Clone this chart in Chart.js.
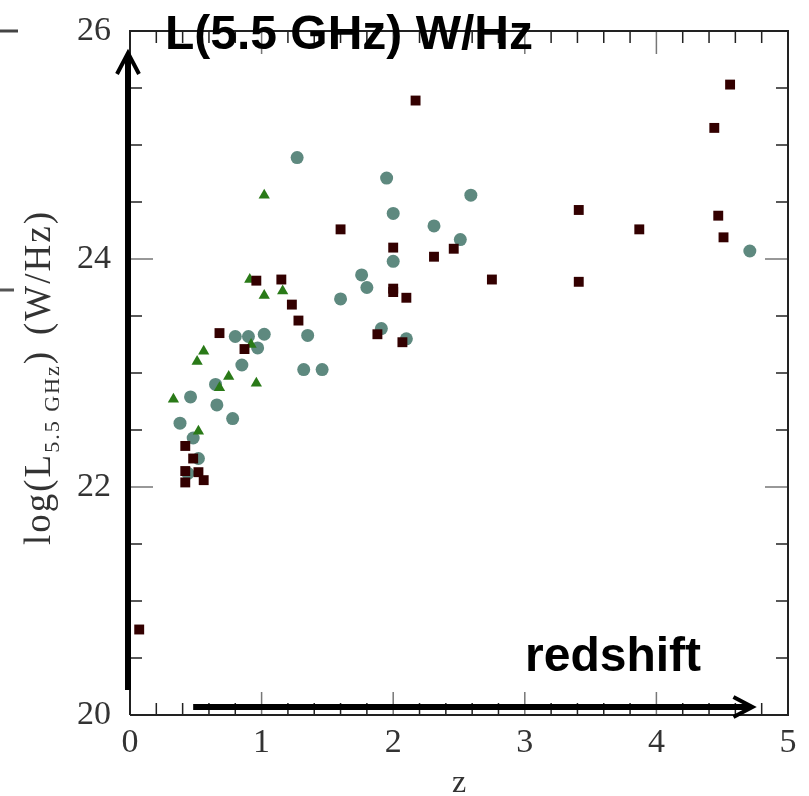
<!DOCTYPE html>
<html>
<head>
<meta charset="utf-8">
<script src="https://cdn.jsdelivr.net/npm/chart.js@4.4.1/dist/chart.umd.min.js"></script>
<style>
  html, body { margin: 0; padding: 0; background: #fff; }
  #wrap { width: 809px; height: 796px; position: relative; }
</style>
</head>
<body>
<div id="wrap"><canvas id="lumChart" width="809" height="796"></canvas></div>
<script>
// redshift / log luminosity
var squareZ = [0.07, 0.42, 0.48, 0.42, 0.52, 0.42, 0.56, 0.68, 0.87, 0.96, 1.15, 1.23, 1.28, 1.60, 1.88, 2.00, 2.00, 2.00, 2.10, 2.07, 2.31, 2.46, 2.75, 2.17, 3.41, 3.41, 3.87, 4.44, 4.56, 4.47, 4.51];
var squareL = [20.75, 22.36, 22.25, 22.14, 22.13, 22.04, 22.06, 23.35, 23.21, 23.81, 23.82, 23.60, 23.46, 24.26, 23.34, 24.10, 23.74, 23.71, 23.66, 23.27, 24.02, 24.09, 23.82, 25.39, 24.43, 23.80, 24.26, 25.15, 25.53, 24.38, 24.19];

var triangleZ = [0.33, 0.51, 0.56, 0.52, 0.68, 0.75, 0.91, 0.92, 0.96, 1.02, 1.02, 1.16];
var triangleL = [22.77, 23.10, 23.19, 22.49, 22.87, 22.97, 23.82, 23.25, 22.91, 23.68, 24.56, 23.72];

var circleZ = [1.27, 0.46, 0.38, 0.48, 0.52, 0.44, 0.65, 0.66, 0.78, 0.80, 0.90, 1.02, 0.97, 0.85, 1.35, 1.32, 1.46, 1.60, 1.95, 2.59, 2.00, 2.31, 2.51, 2.00, 1.76, 1.80, 1.91, 2.10, 4.71];
var circleL = [24.89, 22.79, 22.56, 22.43, 22.25, 22.12, 22.90, 22.72, 22.60, 23.32, 23.32, 23.34, 23.22, 23.07, 23.33, 23.03, 23.03, 23.65, 24.71, 24.56, 24.40, 24.29, 24.17, 23.98, 23.86, 23.75, 23.39, 23.30, 24.07];

var xTicks = [0, 1, 2, 3, 4, 5];
var yTicks = [20, 22, 24, 26];

function toPoints(xs, ys) {
    return xs.map(function(x, i) { return { x: x, y: ys[i] }; });
}

var serif = '"Liberation Serif", "DejaVu Serif", serif';
var sans = '"Liberation Sans", Arial, sans-serif';

var overlay = {
    id: 'overlay',
    afterDraw: function(chart) {
        var ctx = chart.ctx, a = chart.chartArea;
        var xs = chart.scales.x, ys = chart.scales.y;
        ctx.save();

        // inward ticks on all four sides
        ctx.lineWidth = 1.5;
        for (var i = 0; i <= 25; i++) {
            var px = xs.getPixelForValue(i / 5);
            var major = (i % 5 === 0);
            var len = major ? 23 : 12;
            ctx.strokeStyle = major ? '#777' : '#222';
            ctx.beginPath();
            ctx.moveTo(px, a.bottom); ctx.lineTo(px, a.bottom - len);
            ctx.moveTo(px, a.top); ctx.lineTo(px, a.top + len);
            ctx.stroke();
        }
        for (var j = 0; j <= 12; j++) {
            var py = ys.getPixelForValue(20 + j * 0.5);
            var majorY = (j % 4 === 0);
            var lenY = majorY ? 23 : 12;
            ctx.strokeStyle = majorY ? '#777' : '#222';
            ctx.beginPath();
            ctx.moveTo(a.left, py); ctx.lineTo(a.left + lenY, py);
            ctx.moveTo(a.right, py); ctx.lineTo(a.right - lenY, py);
            ctx.stroke();
        }

        // frame
        ctx.strokeStyle = '#222';
        ctx.lineWidth = 2;
        ctx.beginPath();
        ctx.moveTo(a.left, a.bottom); ctx.lineTo(a.left, a.top);
        ctx.lineTo(a.right, a.top);
        ctx.lineTo(a.right, a.bottom); ctx.lineTo(a.left, a.bottom);
        ctx.stroke();

        // stray marks at the left edge
        ctx.lineWidth = 3;
        ctx.strokeStyle = '#444';
        ctx.beginPath(); ctx.moveTo(0, a.top); ctx.lineTo(18, a.top); ctx.stroke();
        ctx.strokeStyle = '#555';
        ctx.beginPath(); ctx.moveTo(0, 290); ctx.lineTo(14, 290); ctx.stroke();

        // vertical arrow
        ctx.strokeStyle = '#000';
        ctx.lineWidth = 6;
        var ax = a.left - 2;
        ctx.beginPath(); ctx.moveTo(ax, 690); ctx.lineTo(ax, 56); ctx.stroke();
        ctx.lineWidth = 4;
        ctx.lineJoin = 'miter';
        ctx.beginPath();
        ctx.moveTo(ax - 11, 74); ctx.lineTo(ax, 53); ctx.lineTo(ax + 11, 74);
        ctx.stroke();

        // horizontal arrow
        var hy = a.bottom - 8;
        var x0 = xs.getPixelForValue(0.48), x1 = xs.getPixelForValue(4.73);
        ctx.lineWidth = 6;
        ctx.beginPath(); ctx.moveTo(x0, hy); ctx.lineTo(x1 - 3, hy); ctx.stroke();
        ctx.lineWidth = 4;
        ctx.beginPath();
        ctx.moveTo(x1 - 19, hy - 10); ctx.lineTo(x1, hy); ctx.lineTo(x1 - 19, hy + 10);
        ctx.stroke();

        // bold annotations
        ctx.fillStyle = '#000';
        ctx.font = 'bold 48px ' + sans;
        ctx.textBaseline = 'alphabetic';
        ctx.textAlign = 'left';
        ctx.fillText('L(5.5 GHz) W/Hz', 165, 49);
        ctx.fillText('redshift', 525, 671);

        // x axis title
        ctx.fillStyle = '#333';
        ctx.font = '32px ' + serif;
        ctx.textAlign = 'center';
        ctx.fillText('z', (a.left + a.right) / 2, 792);

        // y axis title with subscript, rotated; runs from y=545 up to y=210
        ctx.translate(50, 545);
        ctx.rotate(-Math.PI / 2);
        var big = '37px ' + serif, small = '22px ' + serif;
        ctx.letterSpacing = '2px';
        var head = [
            { t: 'log(L', f: big, dy: 0 },
            { t: '5.5 GHz', f: small, dy: 9 },
            { t: ')', f: big, dy: 0 }
        ];
        var cx = 0;
        ctx.textAlign = 'left';
        head.forEach(function(p) {
            ctx.font = p.f;
            ctx.fillText(p.t, cx, p.dy);
            cx += ctx.measureText(p.t).width;
        });
        ctx.font = big;
        ctx.textAlign = 'right';
        ctx.fillText('(W/Hz)', 335, 0);
        ctx.restore();
    }
};

var ctx = document.getElementById('lumChart').getContext('2d');
var lumChart = new Chart(ctx, {
    type: 'scatter',
    data: {
        datasets: [{
            label: 'squares',
            data: toPoints(squareZ, squareL),
            pointStyle: 'rect',
            pointRadius: 7,
            backgroundColor: '#330000',
            borderColor: '#330000',
            borderWidth: 0
        }, {
            label: 'triangles',
            data: toPoints(triangleZ, triangleL),
            pointStyle: 'triangle',
            pointRadius: 6.5,
            backgroundColor: '#2a7a18',
            borderColor: '#2a7a18',
            borderWidth: 0
        }, {
            label: 'circles',
            data: toPoints(circleZ, circleL),
            pointStyle: 'circle',
            pointRadius: 6.5,
            backgroundColor: '#5e897f',
            borderColor: '#5e897f',
            borderWidth: 0
        }]
    },
    options: {
        responsive: false,
        animation: false,
        layout: { padding: { top: 31, right: 21, left: 0, bottom: 0 } },
        plugins: {
            legend: { display: false },
            tooltip: { enabled: false }
        },
        scales: {
            x: {
                type: 'linear',
                min: 0,
                max: 5,
                afterFit: function(scale) {
                    scale.height = 81;
                    scale.paddingLeft = 0; scale.paddingRight = 0;
                },
                afterBuildTicks: function(scale) { scale.ticks = xTicks.map(function(v) { return { value: v }; }); },
                grid: { display: false, drawTicks: false },
                border: { display: false },
                ticks: { color: '#333', font: { family: serif, size: 34 }, padding: 8 }
            },
            y: {
                type: 'linear',
                min: 20,
                max: 26,
                afterFit: function(scale) {
                    scale.width = 130;
                    scale.paddingTop = 0; scale.paddingBottom = 0;
                },
                afterBuildTicks: function(scale) { scale.ticks = yTicks.map(function(v) { return { value: v }; }); },
                grid: { display: false, drawTicks: false },
                border: { display: false },
                ticks: { color: '#333', font: { family: serif, size: 34 }, padding: 19 }
            }
        }
    },
    plugins: [overlay]
});
</script>
</body>
</html>
